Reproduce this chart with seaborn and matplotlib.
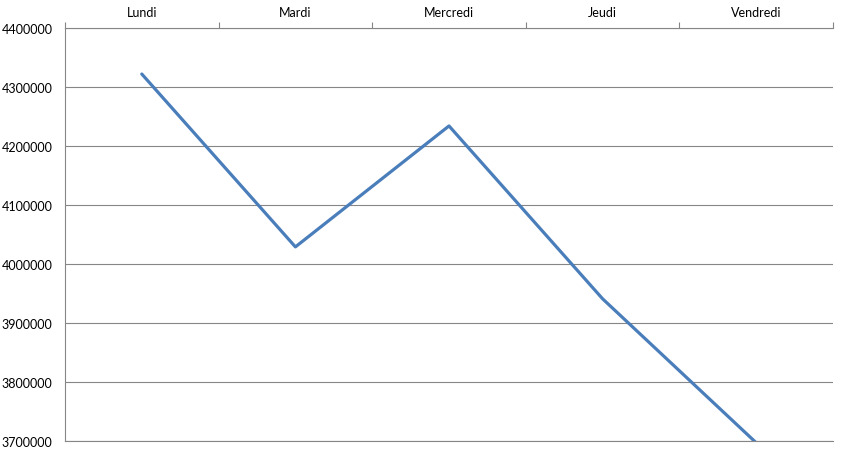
import matplotlib
matplotlib.use("Agg")
import matplotlib.pyplot as plt
import seaborn as sns
import pandas as pd
import numpy as np

# Data
jours = ["Lundi", "Mardi", "Mercredi", "Jeudi", "Vendredi"]
valeurs = [4322000, 4029000, 4234000, 3941000, 3697000]
y_ticks = [3700000, 3800000, 3900000, 4000000, 4100000, 4200000, 4300000, 4400000]

sns.set_style("white")
plt.rcParams['font.family'] = ['Lato', 'DejaVu Sans']

df = pd.DataFrame({"jour": jours, "valeur": valeurs})

fig = plt.figure(figsize=(8.46, 4.56), dpi=100)
ax = fig.add_axes([65 / 846, 1 - 442 / 456, (833 - 65) / 846, (442 - 29) / 456])

gris = "#868686"

sns.lineplot(data=df, x="jour", y="valeur", ax=ax, color="#4a7ebb",
             linewidth=2.3, sort=False, zorder=3)

ax.set_xlim(-0.5, len(jours) - 0.5)
ax.set_ylim(y_ticks[0], y_ticks[-1])
ax.set_yticks(y_ticks)
ax.set_yticklabels([str(v) for v in y_ticks], fontsize=9, color="black")

# category axis on top, tick marks between categories
ax.xaxis.tick_top()
ax.set_xticks(range(len(jours)))
ax.set_xticklabels(jours, fontsize=9, color="black")
ax.set_xticks(np.arange(-0.5, len(jours)), minor=True)
ax.tick_params(axis="x", which="major", length=0, pad=7)
ax.tick_params(axis="x", which="minor", length=4, width=0.8, color=gris, top=True, bottom=False)
ax.tick_params(axis="y", which="major", length=5, width=0.8, color=gris, pad=4)

ax.yaxis.grid(True, color=gris, linewidth=0.8)
ax.set_axisbelow(True)
ax.set_xlabel("")
ax.set_ylabel("")

ax.spines["right"].set_visible(False)
for side in ["left", "top", "bottom"]:
    ax.spines[side].set_color(gris)
    ax.spines[side].set_linewidth(0.8)

fig.savefig("out.png", dpi=100)
